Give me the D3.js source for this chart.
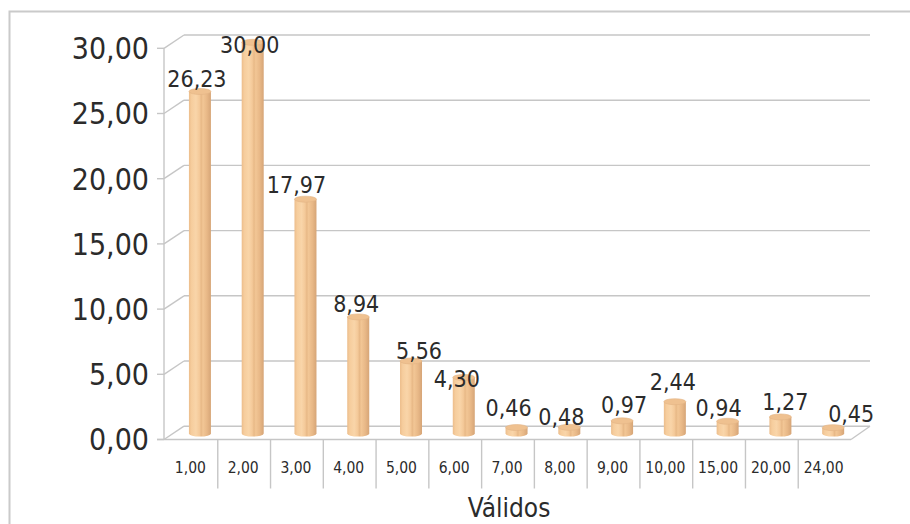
<!DOCTYPE html>
<html>
<head>
<meta charset="utf-8">
<script src="https://cdn.jsdelivr.net/npm/d3@7"></script>
<style>
  html, body { margin: 0; padding: 0; background: #fff; }
  svg { display: block; }
  text { font-family: "DejaVu Sans Condensed", "DejaVu Sans", sans-serif; font-stretch: condensed; fill: #2b2b2b; }
</style>
</head>
<body>
<svg id="chart" width="910" height="524"></svg>
<script>
// Frequency of answers (percent of valid responses)
const categories = ["1,00", "2,00", "3,00", "4,00", "5,00", "6,00", "7,00", "8,00", "9,00", "10,00", "15,00", "20,00", "24,00"];
const values = [26.23, 30.00, 17.97, 8.94, 5.56, 4.30, 0.46, 0.48, 0.97, 2.44, 0.94, 1.27, 0.45];
const yTicks = [0, 5, 10, 15, 20, 25, 30];
const axisTitle = "Válidos";

// Small label nudges (px) so value labels sit clear of neighbouring bars
const labelShiftX = [-3, -3, -9, -2, 8, -7, -8, -8, 2, -2, -9, 5, 18];
const labelShiftY = [-4, 11, -6, -5, -2, 10, -12, -2, -8, -12, -5, -7, -6];

const fmt = v => d3.format(".2f")(v).replace(".", ",");

const svg = d3.select("#chart");

// 3D frame geometry
const depthX = 19, depthY = -13.3;     // offset from front edge to back wall
const barDepth = 0.45;                  // bars stand between front and back
const barWidth = 22, barRy = 3;

const x = d3.scaleBand().domain(categories).range([165, 851]).paddingInner(0).paddingOuter(0);
const y = d3.scaleLinear().domain([0, 30]).range([439.5, 48.3]);

// Outer frame
svg.append("rect")
  .attr("x", 9.5).attr("y", 11.5).attr("width", 920).attr("height", 540)
  .attr("fill", "none").attr("stroke", "#cacaca").attr("stroke-width", 2);

const grid = svg.append("g").attr("stroke", "#c6c6c6").attr("stroke-width", 1.4).attr("fill", "none");
const x0 = x.range()[0], x1 = x.range()[1];

// Back-wall gridlines with their side-wall diagonals and tick marks
yTicks.forEach(t => {
  const yf = y(t), yb = y(t) + depthY;
  if (t > 0) {
    grid.append("line").attr("x1", x0 + depthX).attr("x2", x1 + depthX).attr("y1", yb).attr("y2", yb);
  }
  grid.append("line").attr("x1", x0 - 1).attr("y1", yf).attr("x2", x0 + depthX).attr("y2", yb);
  grid.append("line").attr("x1", x0 - 8).attr("x2", x0 - 1).attr("y1", yf).attr("y2", yf);
});

// Floor: back edge, front edge, right diagonal
grid.append("line").attr("x1", x0 + depthX).attr("x2", x1 + depthX).attr("y1", y(0) + depthY).attr("y2", y(0) + depthY);
grid.append("line").attr("x1", x0 - 8).attr("x2", x1).attr("y1", y(0)).attr("y2", y(0));
grid.append("line").attr("x1", x1).attr("y1", y(0)).attr("x2", x1 + depthX).attr("y2", y(0) + depthY);

// Vertical axis line on the front-left edge
grid.append("line").attr("x1", x0 - 1).attr("x2", x0 - 1).attr("y1", y(30)).attr("y2", y(0));

// Category separators below the floor
categories.slice(1).forEach(c => {
  grid.append("line").attr("x1", x(c)).attr("x2", x(c)).attr("y1", y(0)).attr("y2", y(0) + 49);
});

// Y tick labels
svg.append("g").selectAll("text").data(yTicks).join("text")
  .attr("x", x0 - 16).attr("y", d => y(d))
  .attr("dy", "0.36em")
  .attr("text-anchor", "end")
  .attr("font-size", 30)
  .text(d => fmt(d));

// Category labels
svg.append("g").selectAll("text").data(categories).join("text")
  .attr("x", d => x(d) + x.bandwidth() / 2 - 1)
  .attr("y", y(0) + 33)
  .attr("text-anchor", "middle")
  .attr("font-size", 15.5)
  .text(d => d);

// Axis title
svg.append("text")
  .attr("x", (x0 + x1) / 2 + 1).attr("y", 517)
  .attr("text-anchor", "middle")
  .attr("font-size", 26)
  .text(axisTitle);

// Cylinder shading
const defs = svg.append("defs");
const grad = defs.append("linearGradient").attr("id", "cyl").attr("x1", 0).attr("x2", 1).attr("y1", 0).attr("y2", 0);
[[0, "#ecbd8b"], [0.12, "#f6cd9d"], [0.32, "#f9d5a9"], [0.48, "#f4c999"], [0.56, "#e8b987"],
 [0.64, "#f2c695"], [0.82, "#e8b887"], [1, "#d6a577"]].forEach(([o, c]) =>
  grad.append("stop").attr("offset", o).attr("stop-color", c));

const bars = svg.append("g");
const rows = categories.map((c, i) => ({ c, v: values[i], i }));

rows.forEach(d => {
  const cx = x(d.c) + x.bandwidth() / 2 + barDepth * depthX;
  const base = y(0) + barDepth * depthY;
  const top = y(d.v) + barDepth * depthY;
  const l = cx - barWidth / 2, r = cx + barWidth / 2, rx = barWidth / 2;
  bars.append("path")
    .attr("d", `M${l},${top} L${l},${base} A${rx},${barRy} 0 0 0 ${r},${base} L${r},${top} Z`)
    .attr("fill", "url(#cyl)");
  bars.append("ellipse")
    .attr("cx", cx).attr("cy", top).attr("rx", rx).attr("ry", barRy)
    .attr("fill", "#efc190").attr("stroke", "#e3b484").attr("stroke-width", 0.6);
  d.cx = cx; d.top = top;
});

// Value labels
svg.append("g").selectAll("text").data(rows).join("text")
  .attr("x", d => d.cx + labelShiftX[d.i])
  .attr("y", d => d.top + labelShiftY[d.i])
  .attr("text-anchor", "middle")
  .attr("font-size", 23)
  .text(d => fmt(d.v));
</script>
</body>
</html>
